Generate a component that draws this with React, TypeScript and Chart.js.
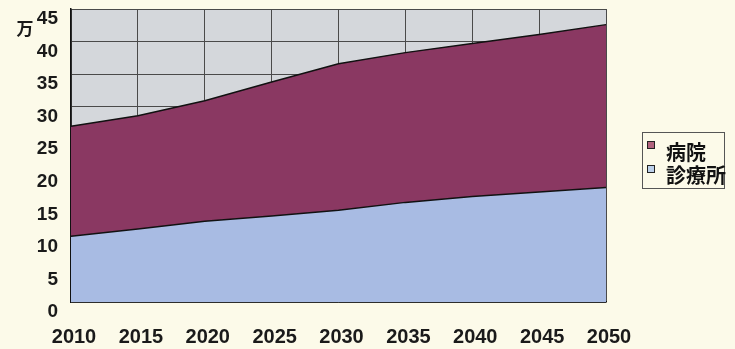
import React, { useEffect, useRef } from "react";
import { Chart, registerables } from "chart.js";

Chart.register(...registerables);

// Projected counts (unit: 万), stacked areas
const years = ["2010", "2015", "2020", "2025", "2030", "2035", "2040", "2045", "2050"];
const clinics = [10.1, 11.2, 12.4, 13.2, 14.1, 15.3, 16.2, 16.9, 17.6];
const hospitals = [16.9, 17.4, 18.5, 20.6, 22.5, 23.0, 23.5, 24.2, 25.0];
const seriesNames = ["診療所", "病院"];
const unitLabel = "万";

const PAGE_BG = "#fcfae9";
const PLOT_BG = "#d4d7db";
const HOSPITAL_COLOR = "#8a3862";
const CLINIC_COLOR = "#a8bbe3";
const HOSPITAL_SWATCH = "#b0627d";
const CLINIC_SWATCH = "#bcd0ea";

const plotBackground = {
  id: "plotBackground",
  beforeDraw(chart: any) {
    const { ctx, chartArea } = chart;
    ctx.save();
    ctx.fillStyle = PLOT_BG;
    ctx.fillRect(chartArea.left, chartArea.top, chartArea.width, chartArea.height);
    ctx.restore();
  },
};

const extras = {
  id: "extras",
  afterDraw(chart: any) {
    const { ctx } = chart;
    ctx.save();
    // unit label
    ctx.fillStyle = "#1a1a1a";
    ctx.font = "bold 17px 'Noto Sans CJK JP'";
    ctx.textAlign = "left";
    ctx.textBaseline = "middle";
    ctx.fillText(unitLabel, 16.5, 29);

    // legend box (top series first)
    const bx = 642, by = 132, bw = 82, bh = 56;
    ctx.fillStyle = PAGE_BG;
    ctx.fillRect(bx, by, bw, bh);
    ctx.strokeStyle = "#555";
    ctx.lineWidth = 1;
    ctx.strokeRect(bx + 0.5, by + 0.5, bw, bh);
    const ds = chart.data.datasets;
    const items = [
      { label: ds[1].label, swatch: HOSPITAL_SWATCH },
      { label: ds[0].label, swatch: CLINIC_SWATCH },
    ];
    items.forEach((d, i) => {
      const sy = 141 + i * 24;
      ctx.fillStyle = d.swatch;
      ctx.fillRect(647, sy, 8, 8);
      ctx.strokeStyle = "#222";
      ctx.strokeRect(647.5, sy + 0.5, 7, 7);
      ctx.fillStyle = "#111";
      ctx.font = "bold 20px 'Noto Sans CJK JP'";
      ctx.textBaseline = "middle";
      ctx.fillText(d.label, 666, 152 + i * 23);
    });
    ctx.restore();
  },
};

export default function App() {
  const canvasRef = useRef<HTMLCanvasElement | null>(null);

  useEffect(() => {
    const canvas = canvasRef.current;
    if (!canvas) return;
    const chart = new Chart(canvas, {
      type: "line",
      data: {
        labels: years,
        datasets: [
          {
            label: seriesNames[0],
            data: clinics,
            backgroundColor: CLINIC_COLOR,
            borderColor: "#111",
            borderWidth: 1.5,
            pointRadius: 0,
            fill: "origin",
            tension: 0,
          },
          {
            label: seriesNames[1],
            data: hospitals,
            backgroundColor: HOSPITAL_COLOR,
            borderColor: "#111",
            borderWidth: 1.5,
            pointRadius: 0,
            fill: "-1",
            tension: 0,
          },
        ],
      },
      options: {
        animation: false,
        responsive: false,
        maintainAspectRatio: false,
        layout: { padding: { top: 9, right: 129, left: 0, bottom: 0 } },
        plugins: {
          legend: { display: false },
          tooltip: { enabled: false },
        },
        scales: {
          x: {
            type: "category",
            offset: false,
            grid: { color: "#4a4a4a", lineWidth: 1, drawTicks: false },
            border: { display: true, color: "#111", width: 1.5 },
            ticks: {
              color: "#1a1a1a",
              font: { family: "'Liberation Sans', Arial, sans-serif", size: 20, weight: "bold" },
              padding: 23,
              labelOffset: 3,
              maxRotation: 0,
              autoSkip: false,
            },
            afterFit(scale: any) {
              scale.height = 47;
              scale.paddingLeft = 0;
              scale.paddingRight = 0;
            },
          },
          y: {
            stacked: true,
            min: 0,
            max: 45,
            grid: { color: "#4a4a4a", lineWidth: 1, drawTicks: false },
            border: { display: true, color: "#111", width: 1.5 },
            ticks: {
              stepSize: 5,
              color: "#1a1a1a",
              font: { family: "'Liberation Sans', Arial, sans-serif", size: 19, weight: "bold" },
              padding: 13,
              labelOffset: 10,
            },
            afterFit(scale: any) {
              scale.width = 71;
              scale.paddingTop = 0;
              scale.paddingBottom = 0;
            },
          },
        },
      },
      plugins: [plotBackground, extras],
    });
    return () => chart.destroy();
  }, []);

  return (
    <div
      style={{
        position: "fixed",
        left: 0,
        top: 0,
        width: 735,
        height: 349,
        background: PAGE_BG,
      }}
    >
      <canvas ref={canvasRef} width={735} height={349} style={{ display: "block" }} />
    </div>
  );
}
